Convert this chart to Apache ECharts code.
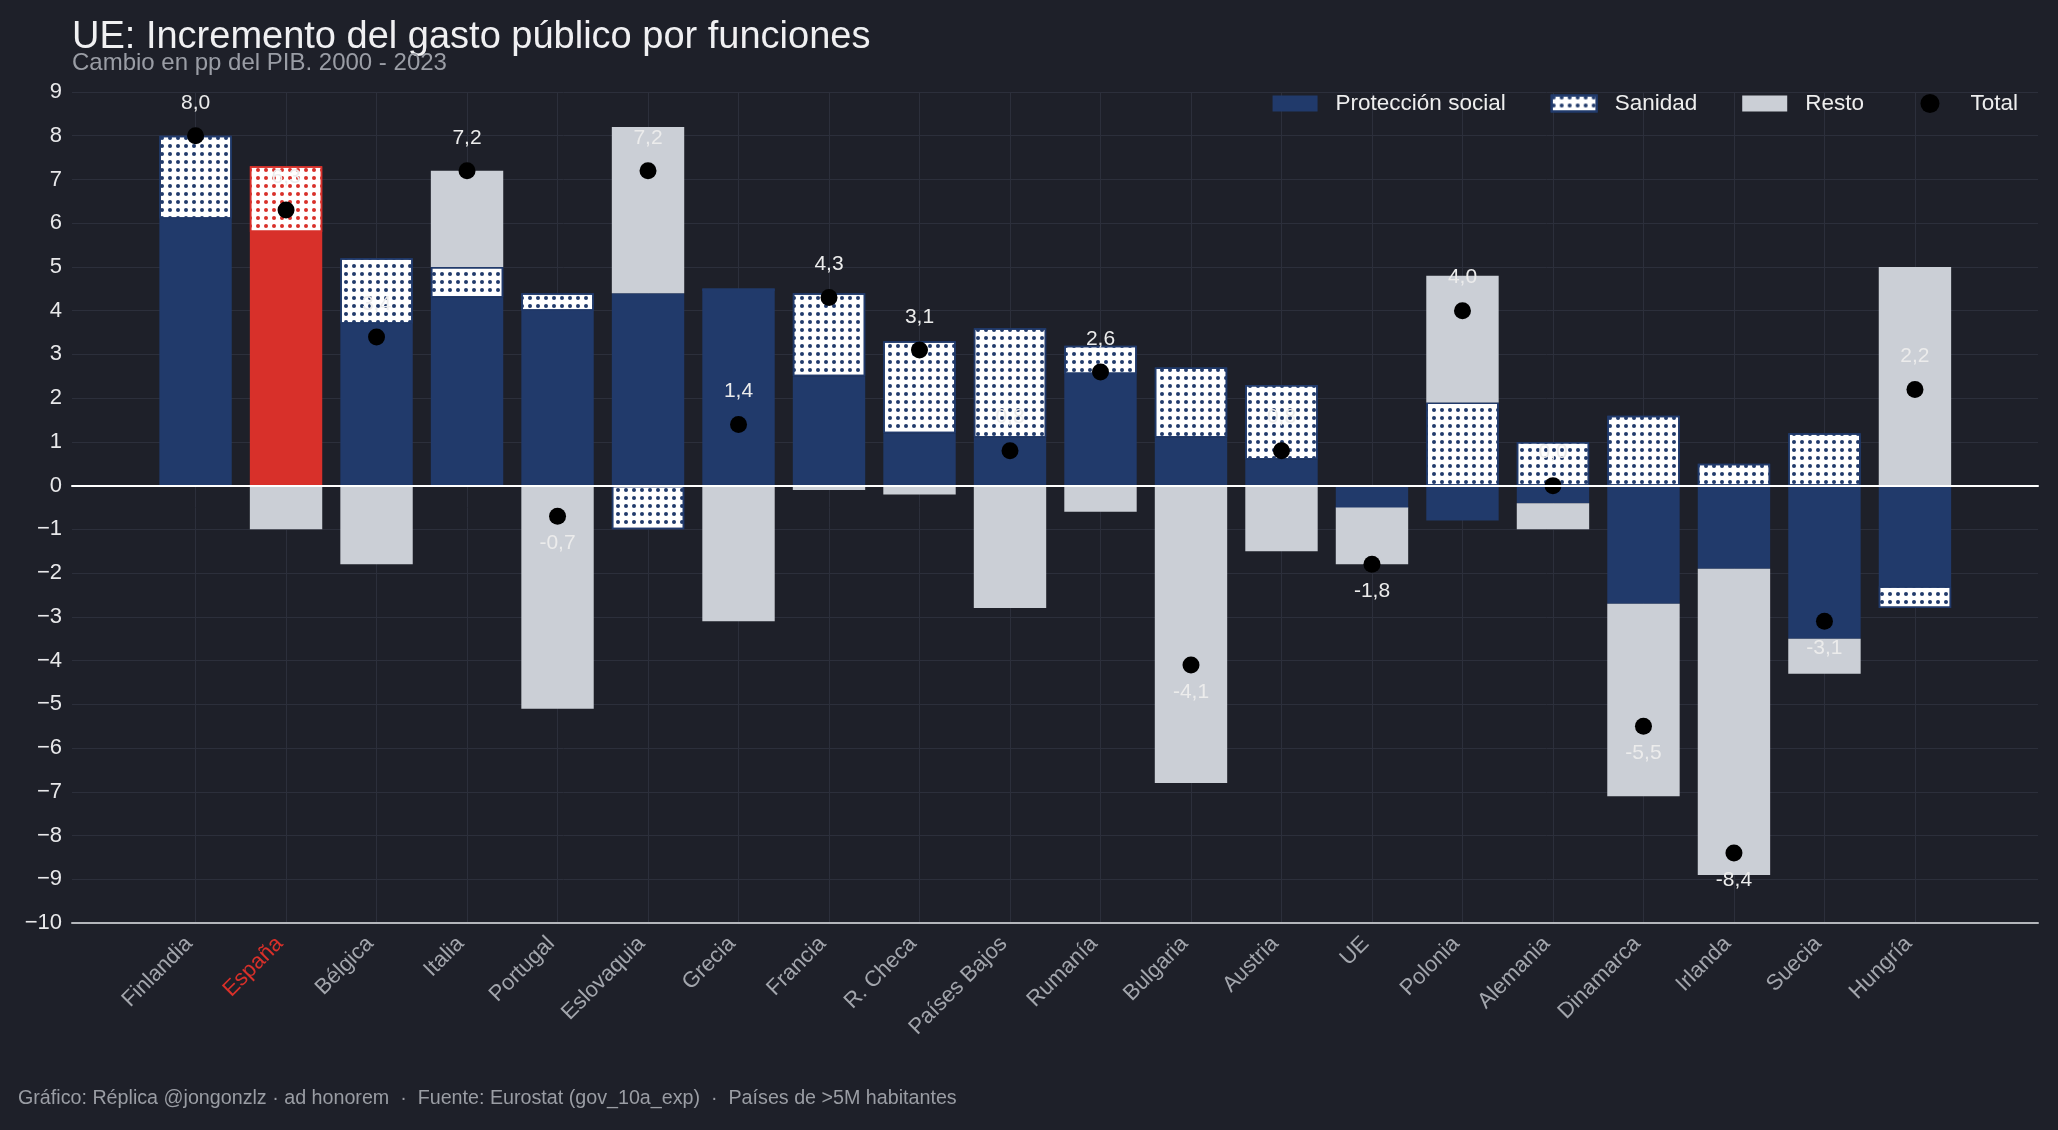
<!DOCTYPE html>
<html>
<head>
<meta charset="utf-8">
<title>UE: Incremento del gasto público por funciones</title>
<script src="https://cdn.jsdelivr.net/npm/echarts@6/dist/echarts.min.js"></script>
<style>
  html, body { margin: 0; padding: 0; background: #1e2029; }
  #chart { width: 2058px; height: 1130px; }
</style>
</head>
<body>
<div id="chart"></div>
<script>
// datos: cambio en pp del PIB, 2000 - 2023
const categories = ['Finlandia', 'España', 'Bélgica', 'Italia', 'Portugal', 'Eslovaquia', 'Grecia', 'Francia',
  'R. Checa', 'Países Bajos', 'Rumanía', 'Bulgaria', 'Austria', 'UE', 'Polonia', 'Alemania',
  'Dinamarca', 'Irlanda', 'Suecia', 'Hungría']
const proteccion = [6.1, 5.8, 3.7, 4.3, 4.0, 4.4, 4.45, 2.5, 1.2, 1.1, 2.55, 1.1, 0.6, -0.5, -0.8, -0.4, -2.7, -1.9, -3.5, -2.3]
const sanidad = [1.9, 1.5, 1.5, 0.7, 0.4, -1.0, 0.06, 1.9, 2.1, 2.5, 0.65, 1.6, 1.7, 0, 1.9, 1.0, 1.6, 0.5, 1.2, -0.5]
const resto = [0, -1.0, -1.8, 2.2, -5.1, 3.8, -3.1, -0.1, -0.2, -2.8, -0.6, -6.8, -1.5, -1.3, 2.9, -0.6, -4.4, -7.0, -0.8, 5.0]
const total = [8.0, 6.3, 3.4, 7.2, -0.7, 7.2, 1.4, 4.3, 3.1, 0.8, 2.6, -4.1, 0.8, -1.8, 4.0, 0.0, -5.5, -8.4, -3.1, 2.2]
const yMin = -10
const yMax = 9
const destacado = 'España'

const NAVY = '#213a6b'
const GRIS = '#cbcfd6'
const ROJO = '#d8302a'
const GRID = '#2c2f3b'
const FONT = '"Liberation Sans", Arial, sans-serif'

const fmtEs = v => v.toFixed(1).replace('.', ',')
const fmtTick = v => (v < 0 ? '\u2212' + (-v) : String(v))
const puntos = color => ({
  symbol: 'circle',
  symbolSize: 1,
  dashArrayX: [4, 3.7],
  dashArrayY: [4, 3.5],
  color: color
})

const plotTop = 92
const plotBottom = 207
const legendText = { color: '#eeeeee', fontSize: 22.5, fontFamily: FONT, padding: [0, 0, 0, 13] }

const chart = echarts.init(document.getElementById('chart'))

const option = {
  backgroundColor: '#1e2029',
  animation: false,
  textStyle: { fontFamily: FONT },
  title: [
    {
      text: 'UE: Incremento del gasto público por funciones',
      left: 72, top: 19, padding: 0,
      textStyle: { color: '#f0f0f2', fontSize: 38, fontWeight: 'normal', fontFamily: FONT }
    },
    {
      text: 'Cambio en pp del PIB. 2000 - 2023',
      left: 72, top: 51, padding: 0,
      textStyle: { color: '#9a9da5', fontSize: 24, fontWeight: 'normal', fontFamily: FONT }
    },
    {
      text: 'Gráfico: Réplica @jongonzlz · ad honorem  ·  Fuente: Eurostat (gov_10a_exp)  ·  Países de >5M habitantes',
      left: 18, top: 1089, padding: 0,
      textStyle: { color: '#9a9da4', fontSize: 19.7, fontWeight: 'normal', fontFamily: FONT }
    }
  ],
  legend: [
    {
      right: 194, top: 92, padding: 0,
      itemWidth: 45, itemHeight: 16, itemGap: 45,
      selectedMode: false,
      textStyle: legendText,
      data: [
        { name: 'Protección social', icon: 'rect' },
        { name: 'Sanidad', icon: 'rect' },
        { name: 'Resto', icon: 'rect' }
      ]
    },
    {
      right: 40, top: 92, padding: 0,
      itemWidth: 45, itemHeight: 19,
      selectedMode: false,
      textStyle: legendText,
      data: [{ name: 'Total', icon: 'circle', itemStyle: { opacity: 1 } }]
    }
  ],
  grid: [
    { left: 72, right: 20, top: plotTop, bottom: plotBottom },       // rejilla horizontal + eje y + linea cero
    { left: 72, right: 20, top: plotTop, bottom: plotBottom },       // linea inferior
    { left: 195.5, right: 143, top: plotTop, bottom: plotBottom },   // rejilla vertical en los centros
    { left: 150.3, right: 97.8, top: plotTop, bottom: plotBottom }   // barras
  ],
  xAxis: [
    {
      gridIndex: 0, type: 'value', min: 0, max: 1, z: 10,
      axisLine: { show: true, onZero: true, lineStyle: { color: '#ffffff', width: 2 } },
      axisTick: { show: false }, axisLabel: { show: false }, splitLine: { show: false }
    },
    {
      gridIndex: 1, type: 'value', min: 0, max: 1, position: 'bottom',
      axisLine: { show: true, onZero: false, lineStyle: { color: '#b4b6bb', width: 2 } },
      axisTick: { show: false }, axisLabel: { show: false }, splitLine: { show: false }
    },
    {
      gridIndex: 2, type: 'value', min: 0, max: categories.length - 1, interval: 1,
      axisLine: { show: false }, axisTick: { show: false }, axisLabel: { show: false },
      splitLine: { show: true, lineStyle: { color: GRID, width: 1 } }
    },
    {
      gridIndex: 3, type: 'category',
      data: categories.map(c => (c === destacado ? { value: c, textStyle: { color: ROJO } } : c)),
      axisLine: { show: false }, axisTick: { show: false }, splitLine: { show: false },
      axisLabel: {
        rotate: 45, margin: 11, padding: [0, 9, 0, 0],
        color: '#a3a6ad', fontSize: 22, fontFamily: FONT, interval: 0
      }
    }
  ],
  yAxis: [
    {
      gridIndex: 0, type: 'value', min: yMin, max: yMax, interval: 1,
      axisLine: { show: false }, axisTick: { show: false },
      axisLabel: { color: '#e8e8ea', fontSize: 22, fontFamily: FONT, margin: 10, formatter: fmtTick },
      splitLine: { show: true, lineStyle: { color: GRID, width: 1 } }
    },
    { gridIndex: 1, type: 'value', min: yMin, max: yMax, show: false },
    { gridIndex: 2, type: 'value', min: yMin, max: yMax, show: false },
    { gridIndex: 3, type: 'value', min: yMin, max: yMax, show: false }
  ],
  series: [
    {
      name: 'Protección social', type: 'bar', stack: 'gasto', xAxisIndex: 3, yAxisIndex: 3,
      barWidth: '80%',
      itemStyle: { color: NAVY },
      data: proteccion.map((v, i) => (categories[i] === destacado ? { value: v, itemStyle: { color: ROJO } } : v))
    },
    {
      name: 'Sanidad', type: 'bar', stack: 'gasto', xAxisIndex: 3, yAxisIndex: 3,
      barWidth: '80%',
      itemStyle: { color: '#ffffff', borderColor: NAVY, borderWidth: 1.5, decal: puntos(NAVY) },
      data: sanidad.map((v, i) => (categories[i] === destacado
        ? { value: v, itemStyle: { color: '#ffffff', borderColor: ROJO, borderWidth: 1.5, decal: puntos(ROJO) } }
        : v))
    },
    {
      name: 'Resto', type: 'bar', stack: 'gasto', xAxisIndex: 3, yAxisIndex: 3,
      barWidth: '80%',
      itemStyle: { color: GRIS },
      data: resto
    },
    {
      name: 'Total', type: 'scatter', xAxisIndex: 3, yAxisIndex: 3,
      symbol: 'circle', symbolSize: 17, z: 5,
      itemStyle: { color: '#000000', opacity: 1 },
      label: {
        show: true,
        color: '#ececec',
        fontSize: 21,
        fontFamily: FONT,
        formatter: p => fmtEs(p.value)
      },
      data: total.map(v => ({
        value: v,
        label: v >= 0 ? { position: 'top', distance: 14 } : { position: 'bottom', distance: 8 }
      }))
    }
  ]
}

chart.setOption(option)
window.onresize = chart.resize
</script>
</body>
</html>
